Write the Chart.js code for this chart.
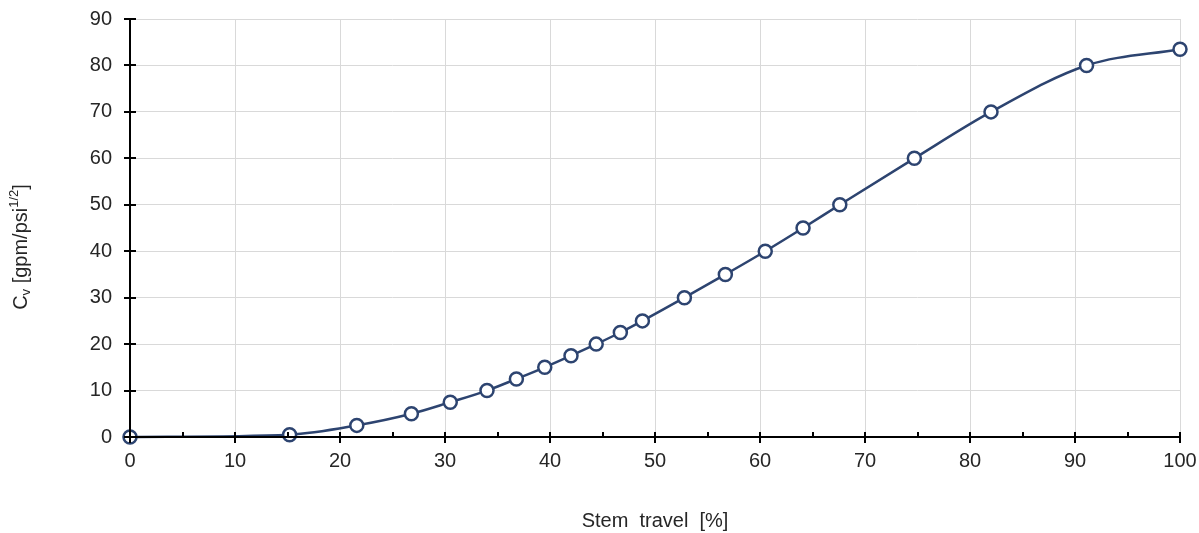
<!DOCTYPE html>
<html>
<head>
<meta charset="utf-8">
<script src="https://cdn.jsdelivr.net/npm/chart.js@4.4.0/dist/chart.umd.min.js"></script>
<style>
  html, body { margin: 0; padding: 0; background: #fff; }
  #wrap { width: 1199px; height: 533px; position: relative; }
</style>
</head>
<body>
<div id="wrap"><canvas id="cvChart"></canvas></div>
<script>
// stem travel [%] and flow coefficient Cv
const stemTravel = [0, 15.2, 21.6, 26.8, 30.5, 34, 36.8, 39.5, 42, 44.4, 46.7, 48.8, 52.8, 56.7, 60.5, 64.1, 67.6, 74.7, 82, 91.1, 100];
const cvValues = [0, 0.5, 2.5, 5, 7.5, 10, 12.5, 15, 17.5, 20, 22.5, 25, 30, 35, 40, 45, 50, 60, 70, 80, 83.5];
const xTicks = [0, 10, 20, 30, 40, 50, 60, 70, 80, 90, 100];
const yTicks = [0, 10, 20, 30, 40, 50, 60, 70, 80, 90];

const LINE_COLOR = '#2d4470';
const TEXT_COLOR = '#262626';
const FONT = '"Liberation Sans", Arial, sans-serif';

// axis lines, crossing tick marks and the Cv axis title
const axisDecor = {
  id: 'axisDecor',
  afterDatasetsDraw(chart) {
    const { ctx, chartArea: a, scales: { x, y } } = chart;
    ctx.save();
    ctx.strokeStyle = '#000';
    ctx.lineWidth = 2;
    ctx.beginPath();
    ctx.moveTo(a.left, a.top);
    ctx.lineTo(a.left, a.bottom);
    ctx.lineTo(a.right, a.bottom);
    ctx.stroke();

    ctx.beginPath();
    yTicks.forEach(v => {
      const py = Math.round(y.getPixelForValue(v));
      ctx.moveTo(a.left - 6, py);
      ctx.lineTo(a.left + 6, py);
    });
    xTicks.forEach(v => {
      const px = Math.round(x.getPixelForValue(v));
      ctx.moveTo(px, a.bottom - 5);
      ctx.lineTo(px, a.bottom + 6);
      if (v < 100) {
        const mx = Math.round(x.getPixelForValue(v + 5));
        ctx.moveTo(mx, a.bottom - 5);
        ctx.lineTo(mx, a.bottom);
      }
    });
    ctx.stroke();

    // y title: C_v [gpm/psi^1/2]
    ctx.translate(21, 247);
    ctx.rotate(-Math.PI / 2);
    ctx.fillStyle = TEXT_COLOR;
    ctx.textBaseline = 'middle';
    const parts = [
      { t: 'C', size: 20, dy: 0 },
      { t: 'v', size: 13, dy: 5 },
      { t: ' [gpm/psi', size: 20, dy: 0 },
      { t: '1/2', size: 13, dy: -7 },
      { t: ']', size: 20, dy: 0 }
    ];
    let total = 0;
    parts.forEach(p => { ctx.font = p.size + 'px ' + FONT; total += ctx.measureText(p.t).width; });
    let cx = -total / 2;
    parts.forEach(p => {
      ctx.font = p.size + 'px ' + FONT;
      ctx.fillText(p.t, cx, p.dy);
      cx += ctx.measureText(p.t).width;
    });
    ctx.restore();
  }
};

const ctx = document.getElementById('cvChart').getContext('2d');
new Chart(ctx, {
  type: 'scatter',
  data: {
    datasets: [{
      data: stemTravel.map((s, i) => ({ x: s, y: cvValues[i] })),
      showLine: true,
      borderColor: LINE_COLOR,
      borderWidth: 2.5,
      cubicInterpolationMode: 'monotone',
      pointRadius: 6.5,
      pointBorderWidth: 2.5,
      pointBorderColor: LINE_COLOR,
      pointBackgroundColor: '#fff',
      clip: false
    }]
  },
  options: {
    responsive: true,
    maintainAspectRatio: false,
    animation: false,
    layout: { padding: { left: 0, right: 19, top: 19, bottom: 0 } },
    plugins: { legend: { display: false }, tooltip: { enabled: false } },
    scales: {
      x: {
        type: 'linear',
        min: 0, max: 100,
        afterBuildTicks: s => { s.ticks = xTicks.map(v => ({ value: v })); },
        afterFit: s => { s.height = 96; s.paddingLeft = 0; s.paddingRight = 0; },
        grid: { color: '#d9d9d9', lineWidth: 1, drawTicks: false },
        border: { display: false },
        ticks: { color: TEXT_COLOR, padding: 12, font: { family: FONT, size: 20 } },
        title: { display: true, text: 'Stem  travel  [%]', color: TEXT_COLOR, font: { family: FONT, size: 20 }, padding: { top: 30, bottom: 0 } }
      },
      y: {
        min: 0, max: 90,
        afterBuildTicks: s => { s.ticks = yTicks.map(v => ({ value: v })); },
        afterFit: s => { s.width = 130; s.paddingTop = 0; s.paddingBottom = 0; },
        grid: { color: '#d9d9d9', lineWidth: 1, drawTicks: false },
        border: { display: false },
        ticks: { color: TEXT_COLOR, padding: 18, font: { family: FONT, size: 20 } }
      }
    }
  },
  plugins: [axisDecor]
});
</script>
</body>
</html>
